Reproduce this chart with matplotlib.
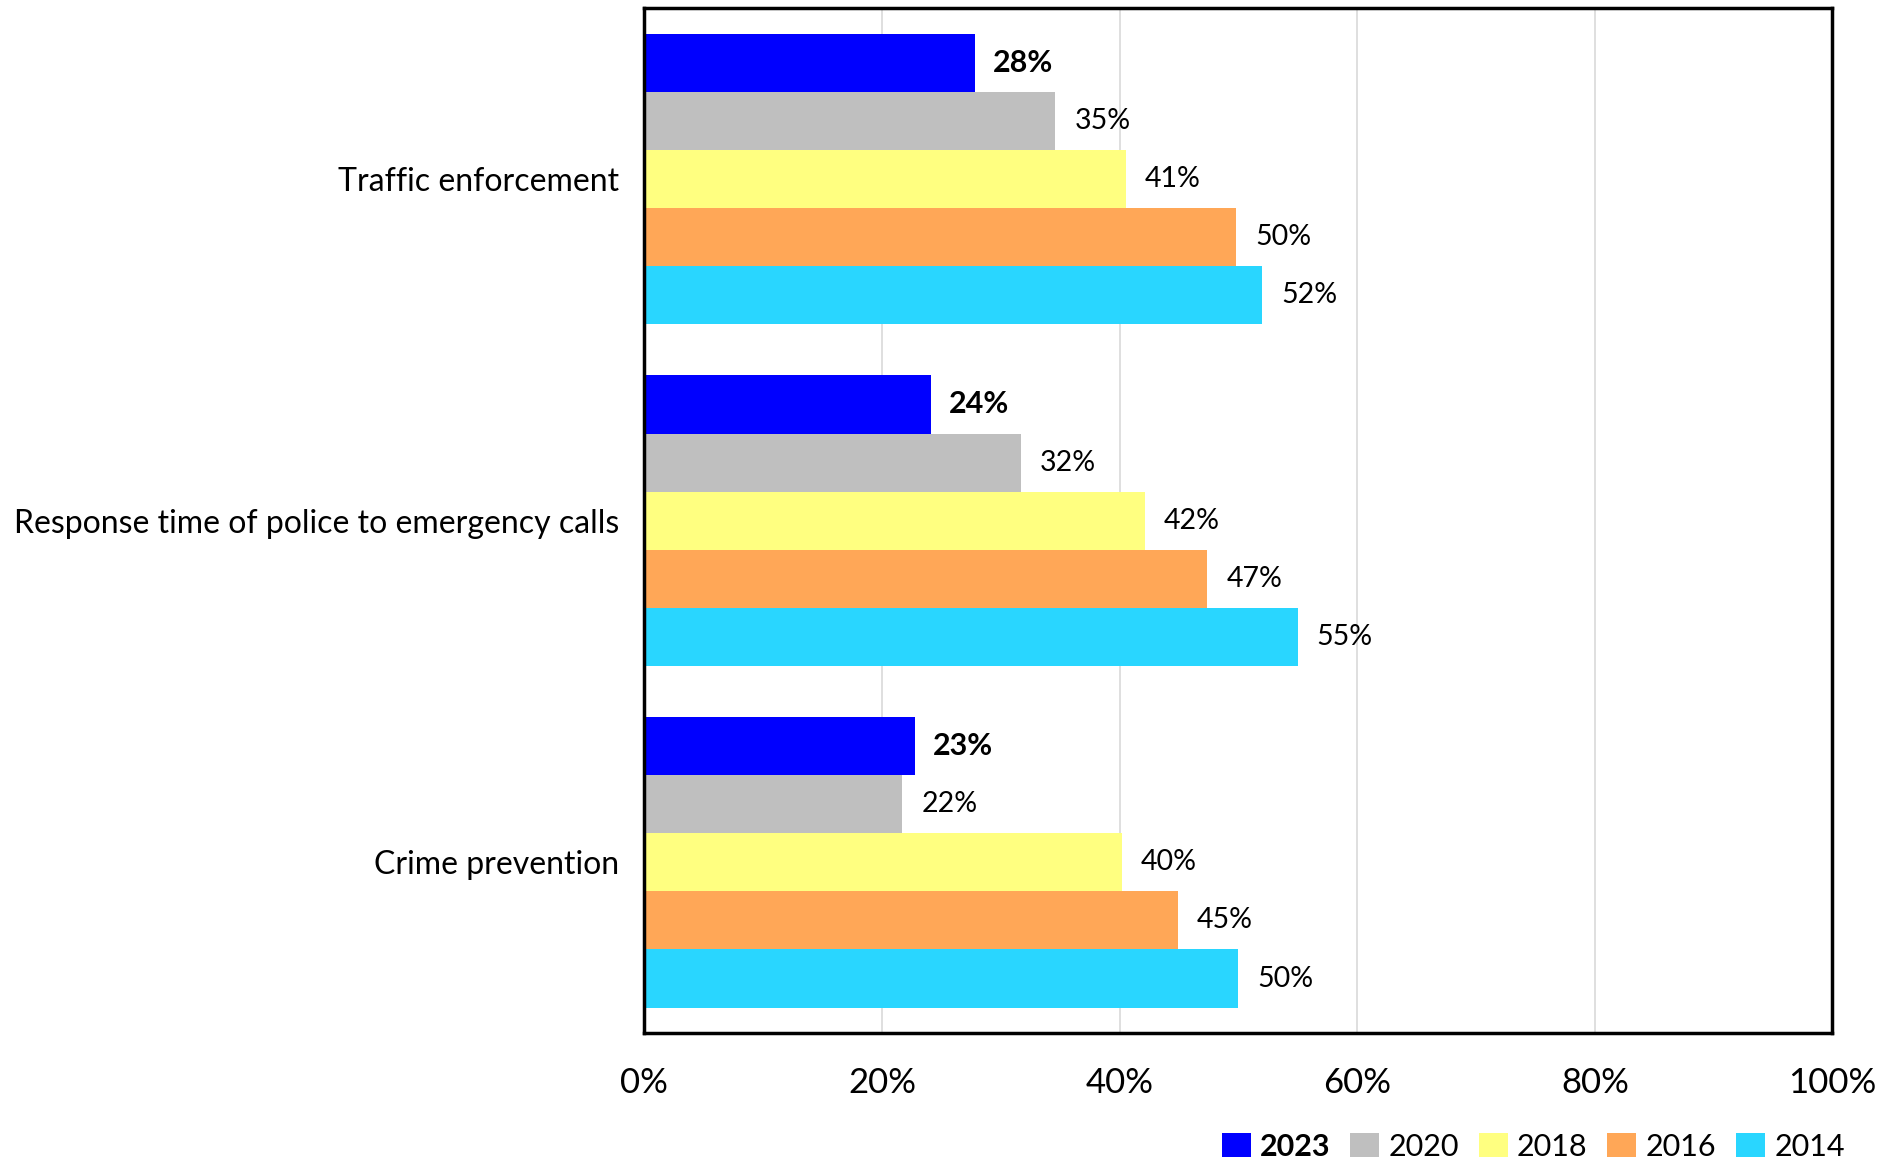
import matplotlib
matplotlib.use('Agg')
import matplotlib.pyplot as plt
import numpy as np
from matplotlib.patches import Patch

plt.rcParams['font.family'] = ['Lato', 'DejaVu Sans']

categories = ['Traffic enforcement', 'Response time of police to emergency calls', 'Crime prevention']
years = ['2023', '2020', '2018', '2016', '2014']
colors = ['#0000FF', '#BFBFBF', '#FFFF80', '#FFA757', '#29D6FF']

# bar lengths (%) per year, order of categories above
v2023 = [27.8, 24.1, 22.8]
v2020 = [34.6, 31.7, 21.7]
v2018 = [40.5, 42.1, 40.2]
v2016 = [49.8, 47.4, 44.9]
v2014 = [52.0, 55.0, 50.0]
labels2023 = ['28%', '24%', '23%']
labels2020 = ['35%', '32%', '22%']
labels2018 = ['41%', '42%', '40%']
labels2016 = ['50%', '47%', '45%']
labels2014 = ['52%', '55%', '50%']

series = [v2023, v2020, v2018, v2016, v2014]
series_labels = [labels2023, labels2020, labels2018, labels2016, labels2014]

fig = plt.figure(figsize=(18.95, 11.57), dpi=100)
ax = fig.add_axes([0.340, 0.107, 0.627, 0.886])

bar_h = 0.17
y_cat = np.arange(len(categories))
for i, (vals, labs) in enumerate(zip(series, series_labels)):
    y = y_cat - 2 * bar_h + i * bar_h
    ax.barh(y, vals, height=bar_h, color=colors[i], edgecolor='none', zorder=2)
    for yy, v, lab in zip(y, vals, labs):
        if i == 0:
            ax.text(v + 1.5, yy, lab, va='center', ha='left', fontsize=22, fontweight='bold')
        else:
            ax.text(v + 1.6, yy, lab, va='center', ha='left', fontsize=20.5)

ax.set_xlim(0, 100)
ax.set_ylim(2.5, -0.5)
ax.set_xticks(np.arange(0, 101, 20))
ax.set_xticklabels([f'{t}%' for t in range(0, 101, 20)], fontsize=25)
ax.set_yticks(y_cat)
ax.set_yticklabels(categories, fontsize=23)
ax.tick_params(axis='both', length=0)
ax.tick_params(axis='x', pad=24)
ax.tick_params(axis='y', pad=18)
ax.grid(axis='x', color='#D9D9D9', linewidth=1.2, zorder=0)
ax.set_axisbelow(True)
for s in ax.spines.values():
    s.set_linewidth(2.5)
    s.set_color('black')

handles = [Patch(facecolor=c, edgecolor='none') for c in colors]
leg = fig.legend(handles, years, loc='lower right', bbox_to_anchor=(0.988, -0.027), ncol=5,
                 frameon=False, fontsize=22, handlelength=0.95, handleheight=0.8,
                 handletextpad=0.3, columnspacing=0.65)
leg.get_texts()[0].set_fontweight('bold')

fig.savefig('out.png', dpi=100)
